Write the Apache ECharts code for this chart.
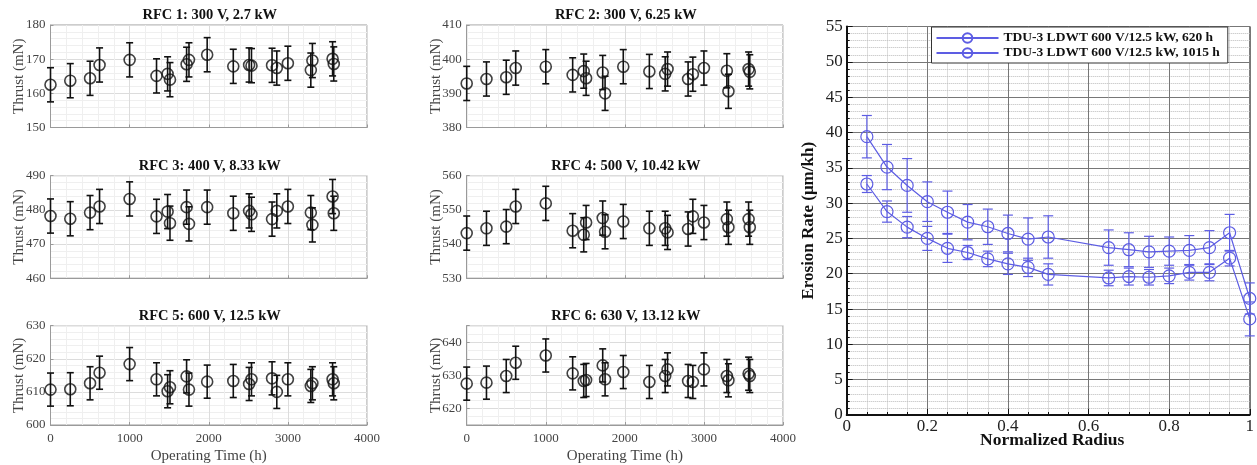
<!DOCTYPE html>
<html><head><meta charset="utf-8">
<script src="https://cdn.jsdelivr.net/npm/echarts@6/dist/echarts.min.js"></script>
<style>html,body{margin:0;padding:0;background:#fff}#c{width:1257px;height:465px}</style>
</head><body><div id="c"></div>
<script>
// ---- data ----
const times = [0,250,500,620,1000,1340,1480,1510,1720,1750,1980,2310,2510,2540,2800,2860,3000,3290,3310,3565,3580];
const rfc1 = [162.5,163.7,164.4,168.3,169.8,165.1,165.7,164.0,168.5,169.8,171.3,167.9,168.3,168.1,168.2,167.4,168.8,166.8,169.6,170.1,168.6];
const rfc2 = [392.9,394.2,394.7,397.4,397.8,395.4,396.5,394.4,396.1,390.0,397.8,396.4,395.7,397.1,394.2,395.6,397.4,396.6,390.6,397.1,396.3];
const rfc3 = [478.2,477.4,479.2,481.0,483.2,478.1,479.5,476.1,480.8,475.9,480.8,479.0,479.7,478.7,477.3,479.7,481.0,479.2,475.6,483.9,479.0];
const rfc4 = [543.2,544.6,545.1,551.0,551.9,543.9,542.7,546.3,547.6,543.6,546.6,544.6,544.6,543.4,544.4,548.1,546.3,547.3,544.9,547.3,544.9];
const rfc5 = [610.7,610.8,612.6,615.8,618.4,613.8,610.2,611.4,614.7,610.7,613.1,613.3,612.4,613.8,614.1,610.0,613.8,611.8,612.6,613.8,612.6];
const rfc6 = [627.5,627.8,629.8,633.8,636.0,630.6,628.3,628.6,633.0,628.8,631.0,628.0,629.8,631.8,628.3,628.0,631.8,629.8,628.5,630.5,629.8];
const thrustErr = 5;
const panelTitles = ['RFC 1: 300 V, 2.7 kW','RFC 2: 300 V, 6.25 kW','RFC 3: 400 V, 8.33 kW','RFC 4: 500 V, 10.42 kW','RFC 5: 600 V, 12.5 kW','RFC 6: 630 V, 13.12 kW'];
const yMins = [150,380,460,530,600,615];
const yMaxs = [180,410,490,560,630,645];
const yIntervals = [10,10,10,10,10,5];

const radius = [0.05,0.10,0.15,0.20,0.25,0.30,0.35,0.40,0.45,0.50,0.65,0.70,0.75,0.80,0.85,0.90,0.95,1.00];
const erosion620 = [39.4,35.1,32.5,30.2,28.7,27.3,26.65,25.7,24.9,25.2,23.7,23.4,23.1,23.2,23.3,23.7,25.8,16.5];
const err620 = [3.0,3.2,3.8,2.8,3.0,2.5,2.5,2.6,3.0,3.0,2.5,2.4,2.2,2.0,2.1,2.4,2.6,2.2];
const erosion1015 = [32.7,28.8,26.6,25.0,23.6,23.0,22.1,21.4,20.9,19.9,19.4,19.6,19.5,19.7,20.2,20.2,22.2,13.6];
const err1015 = [1.2,1.5,1.5,1.7,2.0,1.0,1.1,1.5,1.3,1.5,1.1,1.2,1.1,1.1,1.1,1.2,1.1,2.4];
const legendNames = ['TDU-3 LDWT 600 V/12.5 kW, 620 h','TDU-3 LDWT 600 V/12.5 kW, 1015 h'];

// ---- chart ----
const SERIF = '"Liberation Serif","DejaVu Serif",serif';
const thrustVals = [rfc1,rfc2,rfc3,rfc4,rfc5,rfc6];
const colLeft = [50.5,466.7], colW = [316.5,316.3];
const rowTop = [25,175.7,325.7], rowH = 102.5;
const BLUE = '#5d5de3';

function errRender(capHalf, color, lw){
  return function(params, api){
    const x = api.value(0), lo = api.value(1), hi = api.value(2);
    const a = api.coord([x,hi]), b = api.coord([x,lo]);
    const st = {stroke:color, lineWidth:lw};
    return {type:'group', children:[
      {type:'line', shape:{x1:a[0],y1:a[1],x2:b[0],y2:b[1]}, style:st},
      {type:'line', shape:{x1:a[0]-capHalf,y1:a[1],x2:a[0]+capHalf,y2:a[1]}, style:st},
      {type:'line', shape:{x1:b[0]-capHalf,y1:b[1],x2:b[0]+capHalf,y2:b[1]}, style:st}
    ]};
  };
}

const grids=[], xAxes=[], yAxes=[], series=[], graphics=[];
for(let i=0;i<6;i++){
  const col=i%2, row=Math.floor(i/2);
  grids.push({left:colLeft[col], top:rowTop[row], width:colW[col], height:rowH, show:true, borderColor:'#9a9a9a', borderWidth:1, backgroundColor:'#fff'});
  const bottom = row===2;
  xAxes.push({gridIndex:i, type:'value', min:0, max:4000, interval:1000,
    axisLine:{show:true, lineStyle:{color:'#9a9a9a'}},
    axisTick:{show:true, inside:true, length:3, lineStyle:{color:'#9a9a9a'}},
    axisLabel:{show:bottom, color:'#444', fontFamily:SERIF, fontSize:13, margin:7, formatter: v => String(v)},
    splitLine:{show:true, lineStyle:{color:'#dcdcdc', width:1}},
    minorTick:{show:false, splitNumber:5},
    minorSplitLine:{show:true, lineStyle:{color:'#efefef', width:1}},
    name: bottom ? 'Operating Time (h)' : '', nameLocation:'middle', nameGap:24, nameMoveOverlap:false,
    nameTextStyle:{color:'#444', fontFamily:SERIF, fontSize:15}
  });
  const iv = yIntervals[i];
  yAxes.push({gridIndex:i, type:'value', min:yMins[i], max:yMaxs[i], interval:iv,
    axisLine:{show:true, lineStyle:{color:'#9a9a9a'}},
    axisTick:{show:true, inside:true, length:3, lineStyle:{color:'#9a9a9a'}},
    axisLabel:{color:'#444', fontFamily:SERIF, fontSize:13, margin:5,
      formatter: v => (v%10===0 && (iv===10 || (v>yMins[i] && v<yMaxs[i]))) ? String(v) : ''},
    splitLine:{show:true, lineStyle:{color:'#dcdcdc', width:1}},
    minorTick:{show:false, splitNumber: iv===10 ? 5 : 2},
    minorSplitLine:{show:true, lineStyle:{color:'#efefef', width:1}},
    name:'Thrust (mN)', nameLocation:'middle', nameGap:23.5, nameMoveOverlap:false,
    nameTextStyle:{color:'#444', fontFamily:SERIF, fontSize:15}
  });
  const vals = thrustVals[i];
  series.push({type:'custom', xAxisIndex:i, yAxisIndex:i, silent:true,
    renderItem: errRender(3.5,'#111',1.6), encode:{x:0, y:[1,2]},
    data: times.map((t,k)=>[t, vals[k]-thrustErr, vals[k]+thrustErr]), z:2});
  series.push({type:'scatter', xAxisIndex:i, yAxisIndex:i, silent:true,
    symbol:'circle', symbolSize:11,
    itemStyle:{color:'rgba(0,0,0,0)', borderColor:'#111', borderWidth:1.6},
    data: times.map((t,k)=>[t, vals[k]]), z:3});
  graphics.push({type:'text', x: colLeft[col]+colW[col]/2 + 1, y: rowTop[row]-9.5,
    style:{text:panelTitles[i], font:'bold 14.5px '+SERIF, fill:'#111', textAlign:'center', textVerticalAlign:'middle'}});
}

// right panel
grids.push({left:846.7, top:26.5, width:408.3, height:388.5, show:true, borderColor:'#555', borderWidth:1, backgroundColor:'#fff'});
xAxes.push({gridIndex:6, type:'value', min:0, max:1, interval:0.2,
  axisLine:{show:true, onZero:false, lineStyle:{color:'#111', width:2}},
  axisTick:{show:true, inside:true, length:6, lineStyle:{color:'#111'}},
  minorTick:{show:true, splitNumber:4, length:3, lineStyle:{color:'#111'}},
  axisLabel:{color:'#222', fontFamily:SERIF, fontSize:17, margin:3, formatter: v => String(Math.round(v*10)/10)},
  splitLine:{show:true, lineStyle:{color:'#777', width:1}},
  minorSplitLine:{show:true, lineStyle:{color:'#bbb', width:1, type:'dotted'}},
  name:'Normalized Radius', nameLocation:'middle', nameGap:16, nameMoveOverlap:false,
  nameTextStyle:{color:'#111', fontFamily:SERIF, fontSize:17.5, fontWeight:'bold', padding:[0,0,0,8]}
});
yAxes.push({gridIndex:6, type:'value', min:0, max:55, interval:5,
  axisLine:{show:true, onZero:false, lineStyle:{color:'#111', width:2}},
  axisTick:{show:true, inside:true, length:6, lineStyle:{color:'#111'}},
  minorTick:{show:true, splitNumber:5, length:3, lineStyle:{color:'#111'}},
  axisLabel:{color:'#222', fontFamily:SERIF, fontSize:17, margin:4},
  splitLine:{show:true, lineStyle:{color:'#777', width:1}},
  minorSplitLine:{show:true, lineStyle:{color:'#bbb', width:1, type:'dotted'}},
  name:'Erosion Rate (μm/kh)', nameLocation:'middle', nameGap:30, nameMoveOverlap:false,
  nameTextStyle:{color:'#111', fontFamily:SERIF, fontSize:17, fontWeight:'bold'}
});
const eroSets = [[erosion620, err620],[erosion1015, err1015]];
eroSets.forEach((s,j)=>{
  series.push({type:'custom', xAxisIndex:6, yAxisIndex:6, silent:true,
    renderItem: errRender(5, BLUE, 1.2), encode:{x:0, y:[1,2]},
    data: radius.map((r,k)=>[r, s[0][k]-s[1][k], s[0][k]+s[1][k]]), z:2});
  series.push({type:'line', name:legendNames[j], xAxisIndex:6, yAxisIndex:6, silent:true,
    symbol:'circle', symbolSize:12, showAllSymbol:true,
    lineStyle:{color:BLUE, width:1.2},
    itemStyle:{color:'rgba(0,0,0,0)', borderColor:BLUE, borderWidth:1.2},
    data: radius.map((r,k)=>[r, s[0][k]]), z:3});
});

const chart = echarts.init(document.getElementById('c'), null, {renderer:'canvas'});
chart.setOption({
  animation:false,
  backgroundColor:'#fff',
  grid:grids, xAxis:xAxes, yAxis:yAxes, series:series,
  graphic:graphics,
  legend:{data:legendNames, orient:'vertical', left:931.5, top:27, itemGap:1,
    itemWidth:62, itemHeight:12, padding:[4,8,3,4],
    backgroundColor:'#fff', borderColor:'#333', borderWidth:1,
    textStyle:{fontFamily:SERIF, fontSize:13.5, fontWeight:'bold', color:'#111'}}
});
</script></body></html>
